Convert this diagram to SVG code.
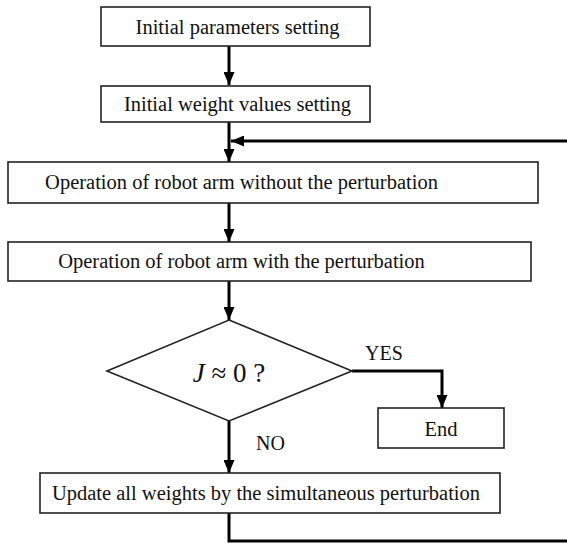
<svg xmlns="http://www.w3.org/2000/svg" width="567" height="545" viewBox="0 0 567 545">
<style>
.box{fill:#fff;stroke:#222;stroke-width:1.6}
.t{font-size:20.5px;fill:#111;text-anchor:middle}
.lbl{font-size:20px;fill:#111}
.c{fill:none;stroke:#000;stroke-width:3}
</style>
<defs>
<marker id="ah" viewBox="0 0 13 11" markerWidth="13" markerHeight="11" refX="13" refY="5.5" orient="auto" markerUnits="userSpaceOnUse">
<path d="M0,0 L13,5.5 L0,11 z" fill="#000"/>
</marker>
</defs>
<g id="connectors">
<path class="c" d="M229,46 V85" marker-end="url(#ah)"/>
<path class="c" d="M229,122 V162" marker-end="url(#ah)"/>
<path class="c" d="M567,141 H231" marker-end="url(#ah)"/>
<path class="c" d="M229,203 V242" marker-end="url(#ah)"/>
<path class="c" d="M229,281 V320" marker-end="url(#ah)"/>
<path class="c" d="M352,371 H442 V408" marker-end="url(#ah)"/>
<path class="c" d="M229,421 V473" marker-end="url(#ah)"/>
<path class="c" d="M229,513 V541 H567"/>
</g>
<g font-family="Liberation Serif, Times New Roman, serif">
<g id="n1">
<rect class="box" x="101" y="7" width="269" height="39"/>
<text class="t" x="237.5" y="34">Initial parameters setting</text>
</g>
<g id="n2">
<rect class="box" x="101" y="86" width="269" height="36"/>
<text class="t" x="237.5" y="111">Initial weight values setting</text>
</g>
<g id="n3">
<rect class="box" x="8" y="162" width="530" height="41"/>
<text class="t" x="241.5" y="189">Operation of robot arm without the perturbation</text>
</g>
<g id="n4">
<rect class="box" x="8" y="242" width="523" height="39"/>
<text class="t" x="241.5" y="268">Operation of robot arm with the perturbation</text>
</g>
<g id="n5">
<polygon class="box" points="229,320 352,371 229,421 107,371"/>
<text x="229" y="382" font-size="27" fill="#111" text-anchor="middle"><tspan font-style="italic">J</tspan> ≈ 0 ?</text>
</g>
<g id="n6">
<rect class="box" x="378" y="408" width="126" height="40"/>
<text class="t" x="441" y="436">End</text>
</g>
<g id="n7">
<rect class="box" x="40" y="473" width="460" height="40"/>
<text class="t" x="266" y="500">Update all weights by the simultaneous perturbation</text>
</g>
<text class="lbl" x="365" y="360">YES</text>
<text class="lbl" x="256" y="450">NO</text>
</g>
</svg>
